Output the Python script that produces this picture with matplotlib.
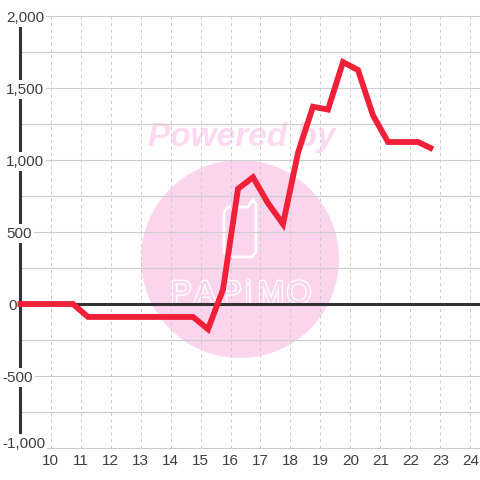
import matplotlib
matplotlib.use("Agg")
import matplotlib.pyplot as plt
import matplotlib.patheffects as pe
from matplotlib.patches import Circle, PathPatch
from matplotlib.path import Path
from matplotlib.transforms import Affine2D

plt.rcParams['font.family'] = ['Liberation Sans', 'DejaVu Sans']

hours = [8.9, 10.75, 11.25, 14.75, 15.25, 15.75, 16.25, 16.75, 17.25, 17.75,
         18.25, 18.75, 19.25, 19.75, 20.25, 20.75, 21.25, 22.25, 22.75]
values = [0, 0, -90, -90, -175, 100, 800, 880, 700, 555,
          1050, 1370, 1350, 1680, 1625, 1310, 1125, 1125, 1075]
x_ticks = list(range(10, 25))
y_labelled = [2000, 1500, 1000, 500, 0, -500, -1000]
y_minor = [1750, 1250, 750, 250, -250, -750]

DARK = '#333333'
GRID = '#cccccc'
PINK = '#fbd5ee'
PINK_TEXT = '#fcd9f0'
RED = '#ef2038'
BG = '#fdfefd'
LABEL = '#3f3f3f'

fig = plt.figure(figsize=(4.8, 4.8), dpi=100, facecolor=BG)
ax = fig.add_axes([20 / 480, 32 / 480, 460 / 480, 432 / 480])
ax.set_facecolor(BG)
ax.set_xlim(8.983, 24.317)
ax.set_ylim(-1000, 2000)
for s in ax.spines.values():
    s.set_visible(False)

# pixel coords, y down, for the watermark
px = Affine2D().scale(1 / 480, -1 / 480).translate(0, 1) + fig.transFigure

ax.add_patch(Circle((240, 259), 99, transform=px, fc=PINK, ec='none', zorder=0.2))
ax.text(148, 146, 'Powered by', transform=px, color=PINK_TEXT, fontsize=24,
        fontweight='bold', fontstyle='italic', ha='left', va='baseline', zorder=0.2)

phone = [(224, 212), (224, 252), (228, 257), (252, 257), (256, 252), (256, 204),
         (253, 200), (250, 204), (248, 207), (228, 207), (224, 212)]
ax.add_patch(PathPatch(Path(phone), transform=px, fc='none', ec='white', lw=2,
                       joinstyle='round', zorder=0.3))

logo_letters = ['P', 'A', 'P', 'i', 'M', 'O']
logo_x = [181, 205, 231, 248, 271, 299]
for ch, lx in zip(logo_letters, logo_x):
    ax.text(lx, 303, ch, transform=px, color=PINK, fontsize=23, ha='center',
            va='baseline', zorder=0.3,
            path_effects=[pe.withStroke(linewidth=2, foreground='white')])

ax.set_xticks(x_ticks)
ax.set_yticks(y_labelled + y_minor)
ax.set_yticklabels([])
ax.tick_params(axis='both', length=0)
ax.tick_params(axis='x', labelsize=11, labelcolor=LABEL, pad=4)
ax.set_axisbelow(True)
ax.grid(axis='y', color=GRID, lw=0.8, ls='-', zorder=0.5)
ax.grid(axis='x', color=GRID, lw=0.72, ls=(0, (3, 3.5)), zorder=0.5)
for ln in ax.get_xgridlines() + ax.get_ygridlines():
    ln.set_clip_on(False)

ax.axvline(8.983 + 0.5 / 30, ymin=0.0, ymax=1.0, color=DARK, lw=2.2, zorder=1.2, clip_on=False)
ax.axhline(0, color=DARK, lw=2.2, zorder=1.5)

for v in y_labelled:
    if v < 0:
        dx = -18
    elif v == 0:
        dx = -12
    else:
        dx = -14
    dy = 6 if v == -1000 else 0
    ax.annotate(f'{v:,}', xy=(0, v), xycoords=('axes fraction', 'data'),
                xytext=(dx, dy), textcoords='offset pixels', ha='left', va='center_baseline',
                fontsize=11, color=LABEL, zorder=2,
                bbox=dict(fc=BG, ec='none', pad=1.5), annotation_clip=False)

ax.plot(hours, values, color=RED, lw=4.2, solid_joinstyle='miter',
        solid_capstyle='butt', clip_on=False, zorder=3)

fig.savefig('out.png', dpi=100, facecolor=BG)
